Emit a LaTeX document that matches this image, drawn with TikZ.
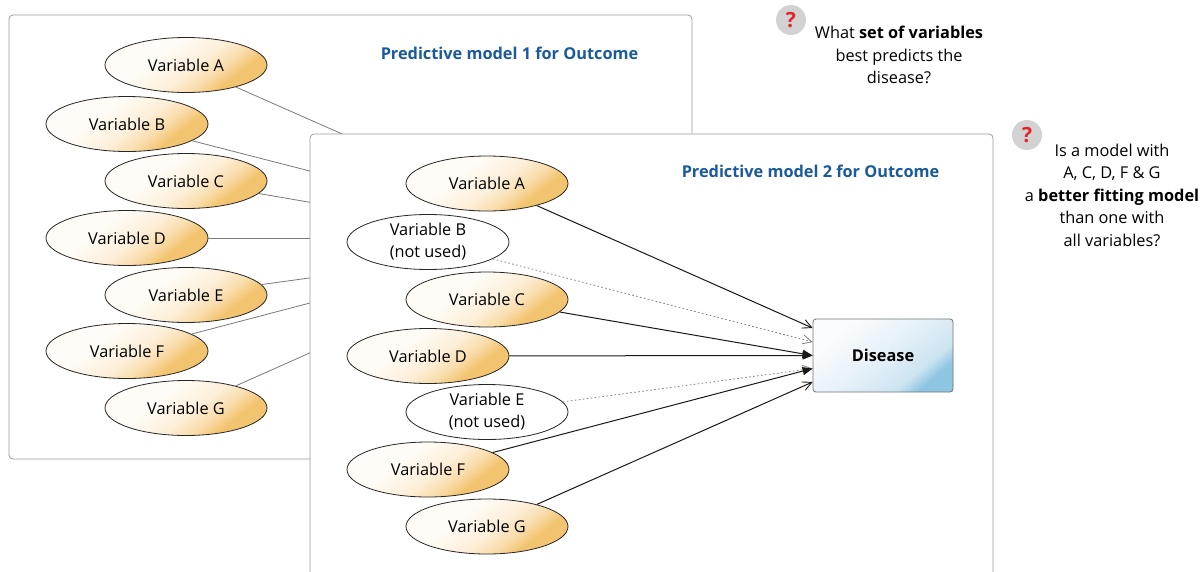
\documentclass[tikz,border=0pt]{standalone}
\usepackage{fontspec}
\setmainfont{Open Sans}
\usetikzlibrary{arrows.meta,shapes.geometric,calc}
\definecolor{boxgray}{HTML}{9A9A9A}
\definecolor{orA}{HTML}{FFFCF7}
\definecolor{orM}{HTML}{FDEFD9}
\definecolor{orN}{HTML}{F9DCAA}
\definecolor{orB}{HTML}{F3C46F}
\definecolor{blueT}{HTML}{1A5A9C}
\definecolor{qgray}{HTML}{D2D2D2}
\definecolor{qred}{HTML}{E0262C}
\definecolor{dbA}{HTML}{FAFCFE}
\definecolor{dbM}{HTML}{E2EFF7}
\definecolor{dbN}{HTML}{CCE4F1}
\definecolor{dbB}{HTML}{8EC5E2}
\definecolor{lgray}{HTML}{7A7A7A}
\pgfdeclareverticalshading{orsh}{100bp}{color(0bp)=(orB); color(31bp)=(orB); color(38bp)=(orN); color(47bp)=(orM); color(62bp)=(orA); color(100bp)=(orA)}
\pgfdeclareverticalshading{dbsh}{100bp}{color(0bp)=(dbB); color(26bp)=(dbB); color(33bp)=(dbN); color(48bp)=(dbM); color(72bp)=(dbA); color(100bp)=(dbA)}
\tikzset{
  basefont/.style={font=\fontsize{16.3}{22}\selectfont},
  var/.style={ellipse, draw=black!85, line width=0.8pt, minimum width=162pt, minimum height=55pt,
    inner sep=0pt, align=center, basefont, shade, shading=orsh, shading angle=38},
  unused/.style={ellipse, draw=black!85, line width=0.8pt, minimum width=162pt, minimum height=55pt,
    inner sep=0pt, align=center, basefont, fill=white},
  panel/.style={draw=boxgray, rounded corners=4pt, fill=white, line width=0.8pt},
  paneltitle/.style={font=\fontsize{16.3}{20}\selectfont\bfseries, text=blueT},
  disease/.style={draw=black!55, rounded corners=3pt, line width=0.8pt, minimum width=140pt,
    minimum height=73pt, shade, shading=dbsh, shading angle=40, font=\fontsize{16.3}{20}\selectfont\bfseries},
  oldline/.style={draw=lgray, line width=0.8pt},
  used/.style={draw=black!90, line width=1pt},
  openarr/.style={used, -{Straight Barb[length=9pt,width=9pt,line width=0.9pt]}},
  fillarr/.style={used, -{Triangle[length=10pt,width=8pt]}},
  dotarr/.style={draw=black!50, line width=0.8pt, dash pattern=on 1.6pt off 2.4pt,
    -{Straight Barb[length=9pt,width=9pt,line width=0.8pt]}},
  qicon/.style={circle, fill=qgray, minimum size=30pt, inner sep=0pt, text=qred,
    font=\fontsize{21}{21}\selectfont\bfseries},
  qtext/.style={align=center, font=\fontsize{16.3}{22.5}\selectfont},
}
\begin{document}
\begin{tikzpicture}[x=1pt,y=-1pt]
\useasboundingbox (0,0) rectangle (1203,571);
% ---------- panel 1 ----------
\begin{scope}[shift={(9,15)}]
  \path[panel] (0,0) rectangle (683,444);
  \node[paneltitle] (t1) at (500.5,38) {Predictive model 1 for Outcome};
  \node[var] (m1A) at (177,50) {Variable A};
  \node[var] (m1B) at (118,109) {Variable B};
  \node[var] (m1C) at (177,166) {Variable C};
  \node[var] (m1D) at (118,223) {Variable D};
  \node[var] (m1E) at (177,280) {Variable E};
  \node[var] (m1F) at (118,336) {Variable F};
  \node[var] (m1G) at (177,393) {Variable G};
  \coordinate (e1A) at (503,194);
  \coordinate (e1B) at (503,208);
  \coordinate (e1C) at (503,222);
  \coordinate (e1D) at (503,223);
  \coordinate (e1E) at (503,235);
  \coordinate (e1F) at (503,235);
  \coordinate (e1G) at (503,248);
  \foreach \v in {A,B,C,D,E,F,G} { \draw[oldline] (m1\v) -- (e1\v); }
\end{scope}
% ---------- panel 2 ----------
\begin{scope}[shift={(310,134)}]
  \path[panel] (0,0) rectangle (683,480);
  \node[paneltitle] (t2) at (500.5,37) {Predictive model 2 for Outcome};
  \node[var] (m2A) at (177,49.5) {Variable A};
  \node[unused] (m2B) at (118,108) {Variable B\\(not used)};
  \node[var] (m2C) at (177,165.5) {Variable C};
  \node[var] (m2D) at (118,222) {Variable D};
  \node[unused] (m2E) at (177,278) {Variable E\\(not used)};
  \node[var] (m2F) at (118,335.5) {Variable F};
  \node[var] (m2G) at (177,392.5) {Variable G};
  \node[disease] (dis) at (573,221.5) {Disease};
  \coordinate (e2A) at ($(dis.west)+(0,-27.5)$);
  \coordinate (e2B) at ($(dis.west)+(0,-13.5)$);
  \coordinate (e2C) at ($(dis.west)+(0,0)$);
  \coordinate (e2E) at ($(dis.west)+(0,13)$);
  \coordinate (e2G) at ($(dis.west)+(0,26.5)$);
  \draw[openarr] (m2A) -- (e2A);
  \draw[dotarr] (m2B) -- (e2B);
  \draw[fillarr] (m2C) -- (e2C);
  \draw[fillarr] (m2D) -- (e2C);
  \draw[dotarr] (m2E) -- (e2E);
  \draw[fillarr] (m2F) -- (e2E);
  \draw[openarr] (m2G) -- (e2G);
\end{scope}
% ---------- questions ----------
\node[qicon] (q1) at (791,20) {?};
\node[qtext] (qt1) at (899,55) {What \textbf{set of variables}\\best predicts the\\disease?};
\node[qicon] (q2) at (1027,135) {?};
\node[qtext] (qt2) at (1112,195) {Is a model with\\A, C, D, F \& G\\a \textbf{better fitting model}\\than one with\\all variables?};
\end{tikzpicture}
\end{document}
